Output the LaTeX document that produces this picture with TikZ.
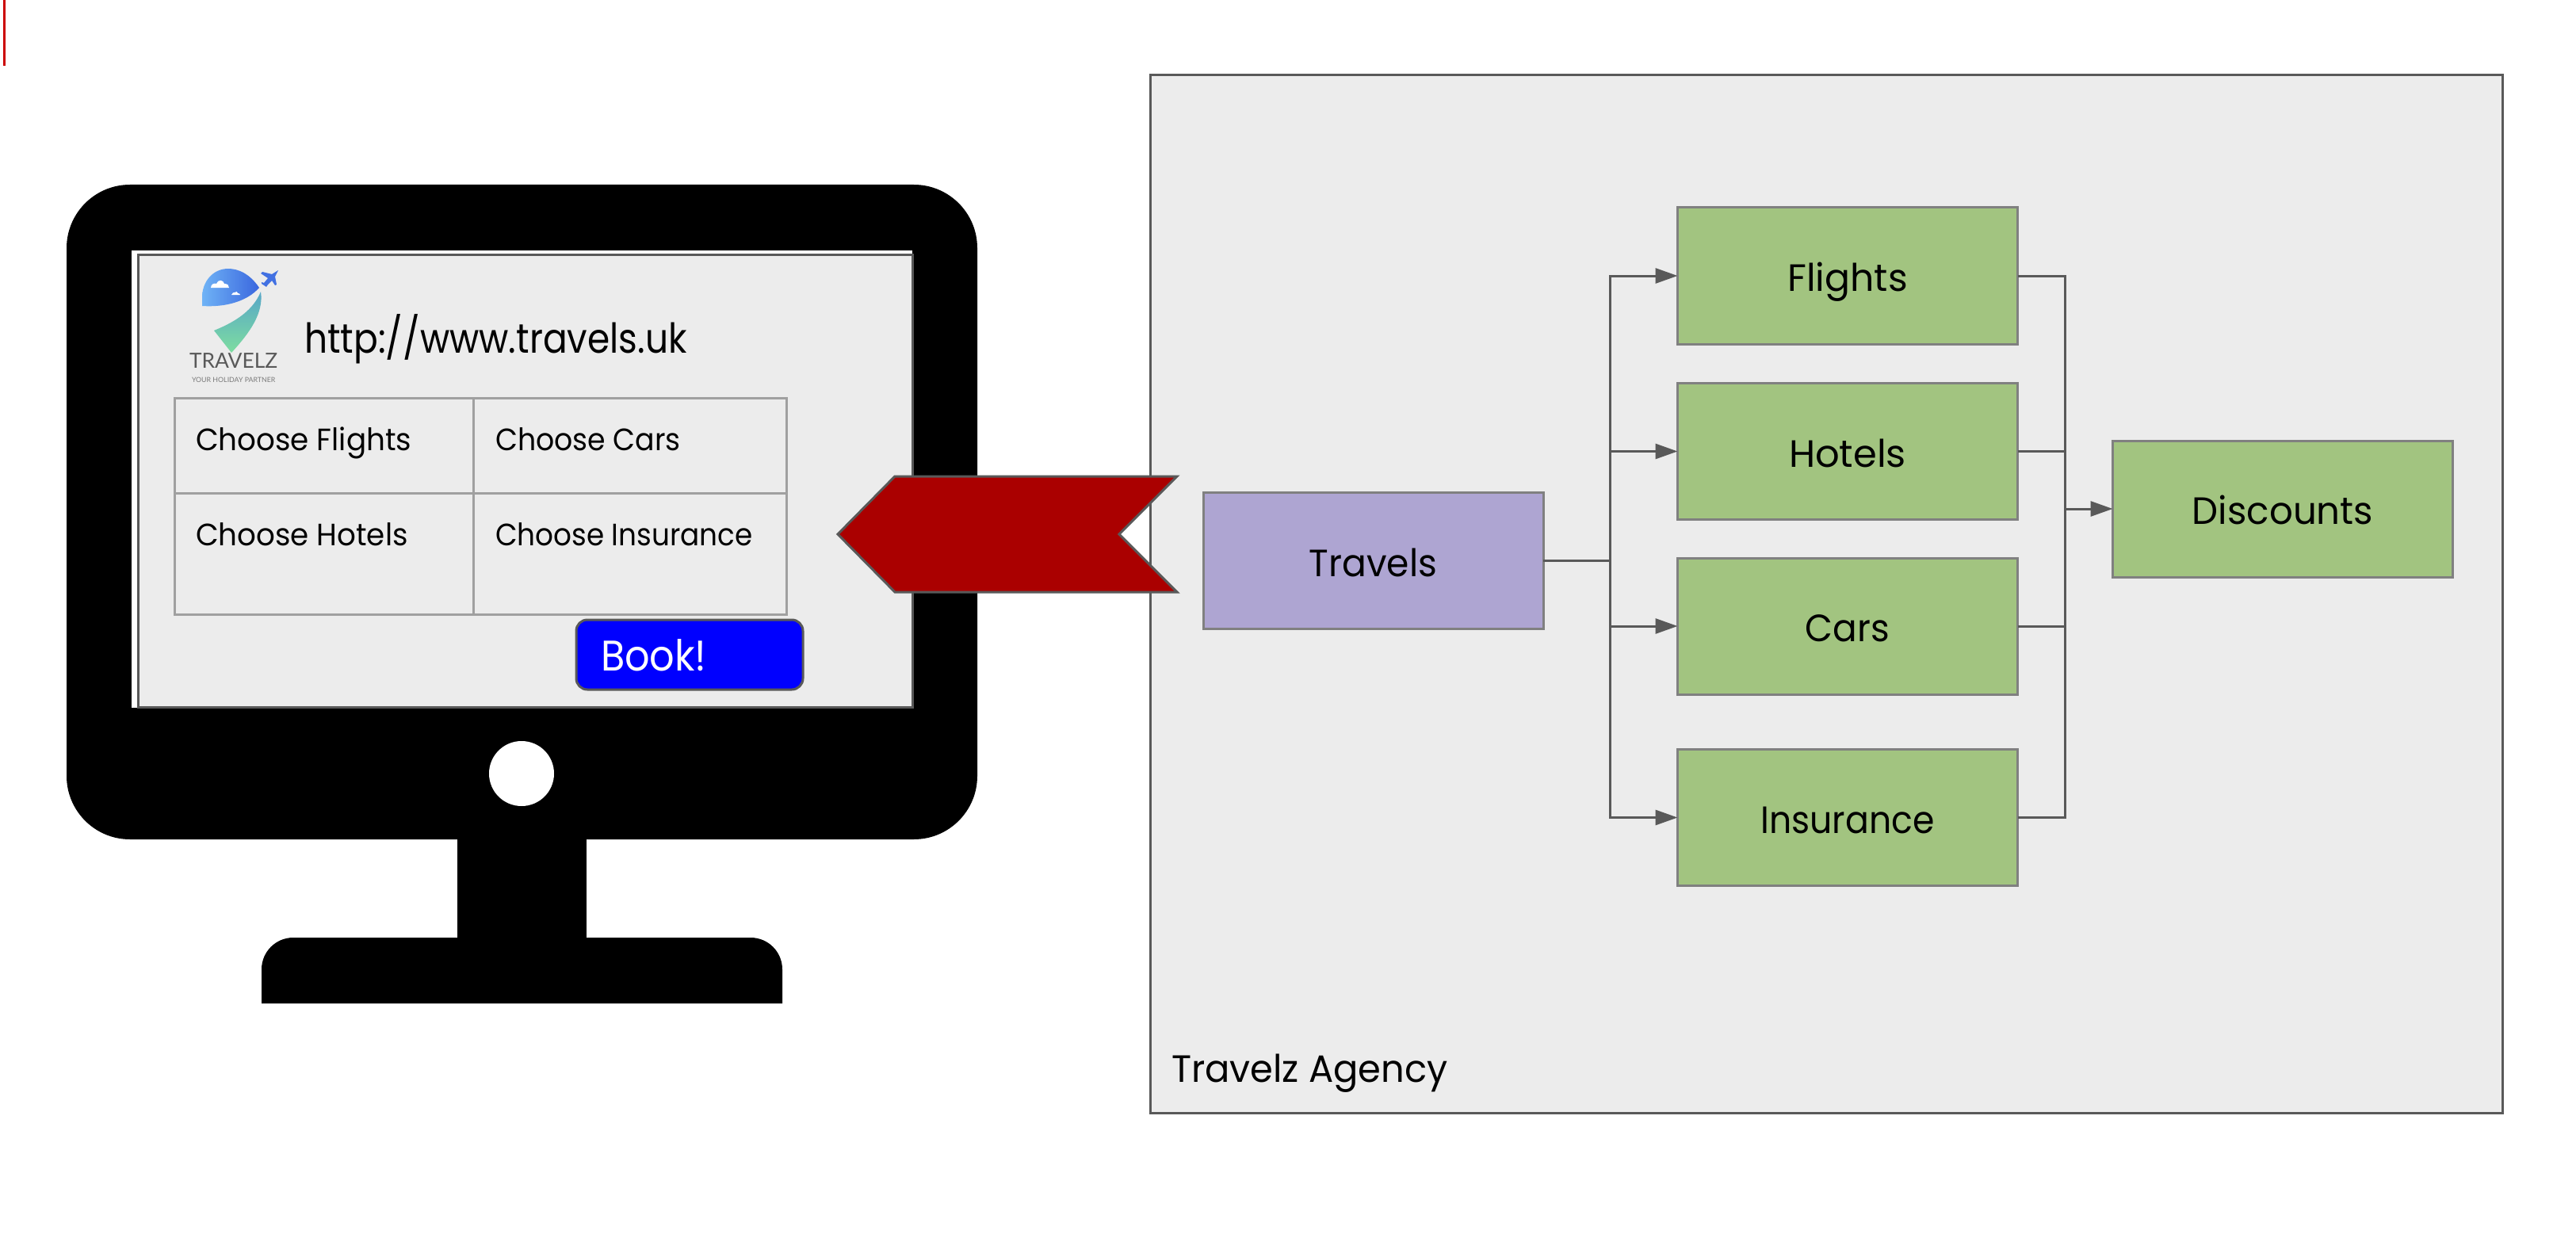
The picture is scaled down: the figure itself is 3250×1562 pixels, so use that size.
\documentclass[tikz,border=0pt]{standalone}
\usepackage{fontspec}
\usepackage{graphicx}
\setmainfont{Poppins}
\newfontfamily\logofont{Lato}
\usetikzlibrary{arrows.meta}
\definecolor{panelgrey}{HTML}{ECECEC}
\definecolor{edgegrey}{HTML}{595959}
\definecolor{boxgrey}{HTML}{808080}
\definecolor{cellgrey}{HTML}{A0A0A0}
\definecolor{travelpurple}{HTML}{AEA5D2}
\definecolor{servicegreen}{HTML}{A2C480}
\definecolor{flagred}{HTML}{AA0000}
\definecolor{logoblue}{HTML}{3A66DE}
\definecolor{logosky}{HTML}{6FB3F6}
\definecolor{logoteal}{HTML}{56A6C8}
\definecolor{logomint}{HTML}{7EDDA0}
\newcommand{\squeeze}[2]{\scalebox{#1}[1]{#2}}
\tikzset{
  every node/.style={outer sep=0pt, inner sep=0pt},
  service/.style={draw=boxgrey, line width=1.5pt, fill=servicegreen, minimum width=214.5pt, minimum height=86pt, text height=19.5pt, text depth=0pt, font=\fontsize{24}{28}\selectfont},
  link/.style={draw=edgegrey, line width=1.5pt},
  flow/.style={link, -{Triangle[length=14pt, width=9.5pt]}},
  cell/.style={draw=cellgrey, line width=1.5pt, anchor=north west},
  celltext/.style={anchor=base west, font=\fontsize{19.5}{24}\selectfont},
}
\begin{document}
\begin{tikzpicture}[x=0.5pt, y=-0.5pt]
  \useasboundingbox (0,0) rectangle (3250,1562);
  \draw[red!80!black, line width=1.5pt] (5.5,0) -- (5.5,83);

  \node[draw=edgegrey, fill=panelgrey, line width=1.5pt, anchor=north west, minimum width=853pt, minimum height=654.5pt] (agency) at (1451,95) {};
  \node[anchor=base west, font=\fontsize{24}{28}\selectfont] (agencytext) at (1478,1365) {\squeeze{.966}{Travelz Agency}};

  \fill[black, rounded corners=40pt] (84,233) rectangle (1233,1059);
  \fill[black] (577,1050) rectangle (740,1190);
  \fill[black] (330,1266) [rounded corners=20pt] -- (330,1183) -- (987,1183) [sharp corners] -- (987,1266) -- cycle;
  \fill[white] (658,976) circle (41);
  \fill[white] (166,316) rectangle (1151,893);
  \node[draw=edgegrey, fill=panelgrey, line width=1.5pt, anchor=north west, minimum width=488.5pt, minimum height=285pt] (screen) at (174,322) {};

  % logo
  \shade[left color=logosky, right color=logoblue] (327,363) .. controls (315,345) and (300,339) .. (288,339) .. controls (268,339) and (255,356) .. (255,375) -- (255,386) .. controls (285,388) and (312,380) .. (327,363) -- cycle;
  \shade[top color=logoteal, bottom color=logomint] (329,368) .. controls (320,390) and (300,405) .. (270,417) -- (292,445) .. controls (315,420) and (333,395) .. (329,368) -- cycle;
  \fill[logoblue!85!logosky] (351,341) -- (343,346) -- (331,343) -- (329,345) -- (338,351) -- (333,357) -- (330,356) -- (330,358) -- (336,362) -- (338,359) -- (343,354) -- (347,360) -- (349,359) -- (347,349) -- cycle;
  \fill[white] (266,363) .. controls (266,358) and (271,357) .. (273,358) .. controls (275,352) and (282,353) .. (283,358) .. controls (287,358) and (289,360) .. (289,363) -- cycle;
  \fill[white] (292,372) .. controls (293,369) and (295,369) .. (296,369) .. controls (298,367) and (300,368) .. (300,370) .. controls (302,370) and (303,371) .. (303,372) -- cycle;
  \node[anchor=base west, text=edgegrey, font=\logofont\fontsize{13.2}{14}\selectfont] (logoname) at (239,464) {TRAVELZ};
  \node[anchor=base west, text=edgegrey!80, font=\logofont\fontsize{4.4}{5}\selectfont] (logotag) at (242,482) {YOUR HOLIDAY PARTNER};

  \node[anchor=base west, font=\fontsize{26}{30}\selectfont] (url) at (384,445) {\squeeze{.875}{http://www.travels.uk}};

  \node[cell, minimum width=188.5pt, minimum height=60pt] (cellflights) at (220,502) {};
  \node[cell, minimum width=197.5pt, minimum height=60pt] (cellcars) at (597,502) {};
  \node[cell, minimum width=188.5pt, minimum height=76.5pt] (cellhotels) at (220,622) {};
  \node[cell, minimum width=197.5pt, minimum height=76.5pt] (cellinsurance) at (597,622) {};
  \node[celltext] (flightstext) at (247,568) {\squeeze{.956}{Choose Flights}};
  \node[celltext] (carstext) at (625,568) {\squeeze{.93}{Choose Cars}};
  \node[celltext] (hotelstext) at (247,688) {\squeeze{.955}{Choose Hotels}};
  \node[celltext] (insurancetext) at (625,688) {\squeeze{.918}{Choose Insurance}};

  \node[draw=edgegrey, fill=blue, line width=1.5pt, rounded corners=7pt, anchor=north west, minimum width=143pt, minimum height=44pt] (book) at (727,782) {};
  \node[anchor=base west, text=white, font=\fontsize{27}{30}\selectfont] (booktext) at (758,846) {\squeeze{.915}{Book!}};

  \draw[draw=edgegrey, fill=flagred, line width=1.5pt] (1057,674) -- (1129,601) -- (1485,601) -- (1412,674) -- (1485,747) -- (1129,747) -- cycle;

  \node[service, fill=travelpurple] (travels) at (1732.5,707.5) {\squeeze{.95}{Travels}};
  \node[service] (flights) at (2331,348) {\squeeze{.986}{Flights}};
  \node[service] (hotels) at (2331,569.5) {Hotels};
  \node[service] (cars) at (2331,790) {\squeeze{.945}{Cars}};
  \node[service] (insurance) at (2331,1031.5) {\squeeze{.92}{Insurance}};
  \node[service] (discounts) at (2880,642) {\squeeze{.973}{Discounts}};

  \coordinate (busin) at (2031,707.5);
  \coordinate (busout) at (2605,642);
  \foreach \target in {flights, hotels, cars, insurance} {
    \draw[flow] (travels.east) -- (busin) |- (\target.west);
    \draw[link] (\target.east) -| (busout);
  }
  \draw[flow] (busout) -- (discounts.west);
\end{tikzpicture}
\end{document}
